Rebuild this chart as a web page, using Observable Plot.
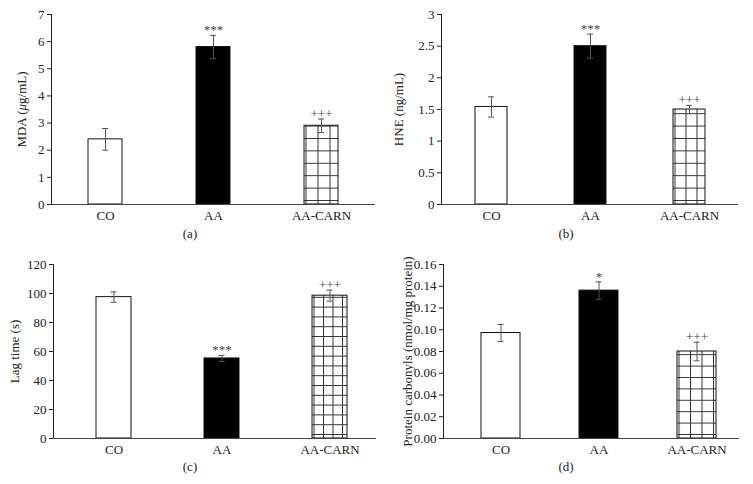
<!DOCTYPE html>
<html>
<head>
<meta charset="utf-8">
<script src="https://cdn.jsdelivr.net/npm/d3@7"></script>
<script src="https://cdn.jsdelivr.net/npm/@observablehq/plot@0.6"></script>
<style>
  html, body { margin: 0; padding: 0; background: #fff; }
  #root { position: relative; width: 753px; height: 484px; overflow: hidden; font-family: "Liberation Serif", "DejaVu Serif", serif; }
  .panel { position: absolute; }
  .cap { position: absolute; font-size: 13px; color: #222; transform: translateX(-50%); }
</style>
</head>
<body>
<div id="root"></div>
<script>
// ---- data ----
const categories = ["CO", "AA", "AA-CARN"];

const mdaMean = [2.4, 5.8, 2.9];
const mdaErr  = [0.4, 0.43, 0.25];
const mdaSig  = ["", "***", "+++"];
const mdaTicks = [0, 1, 2, 3, 4, 5, 6, 7];

const hneMean = [1.54, 2.5, 1.5];
const hneErr  = [0.16, 0.19, 0.065];
const hneSig  = ["", "***", "+++"];
const hneTicks = [0, 0.5, 1, 1.5, 2, 2.5, 3];

const lagMean = [97.5, 55.2, 98.5];
const lagErr  = [3.6, 2.1, 3.8];
const lagSig  = ["", "***", "+++"];
const lagTicks = [0, 20, 40, 60, 80, 100, 120];

const pcMean = [0.097, 0.136, 0.080];
const pcErr  = [0.0078, 0.008, 0.0086];
const pcSig  = ["", "*", "+++"];
const pcTicks = [0, 0.02, 0.04, 0.06, 0.08, 0.10, 0.12, 0.14, 0.16];

const captions = ["(a)", "(b)", "(c)", "(d)"];

const root = document.getElementById("root");

function panel(cfg) {
  const rows = categories.map((c, i) => ({
    cat: c, mean: cfg.mean[i], lo: cfg.mean[i] - cfg.err[i], hi: cfg.mean[i] + cfg.err[i], sig: cfg.sig[i]
  }));
  const pid = "grid-" + cfg.id;
  const fills = {"CO": "white", "AA": "black", "AA-CARN": `url(#${pid})`};
  const capInset = (cfg.bw - 6) / 2;
  const plot = Plot.plot({
    width: cfg.width,
    height: cfg.height,
    marginLeft: cfg.ml, marginRight: cfg.mr, marginTop: cfg.mt, marginBottom: cfg.mb,
    style: {fontFamily: '"Liberation Serif", "DejaVu Serif", serif', fontSize: "13px", color: "#222", background: "white"},
    x: {domain: categories, paddingInner: cfg.pi, paddingOuter: cfg.po, align: cfg.align, label: null, tickSize: 0, tickPadding: 6},
    y: {domain: [0, cfg.ticks[cfg.ticks.length - 1]], ticks: cfg.ticks, tickFormat: cfg.fmt, label: cfg.label, labelArrow: "none",
        labelAnchor: "center", labelOffset: cfg.lo, line: true, tickSize: 4, tickPadding: 3},
    marks: [
      Plot.barY(rows, {x: "cat", y: "mean", fill: d => fills[d.cat], stroke: "#111", strokeWidth: 1}),
      Plot.ruleX(rows, {x: "cat", y1: "lo", y2: "hi", stroke: "#555", strokeWidth: 1}),
      Plot.tickY(rows, {x: "cat", y: "hi", stroke: "#555", strokeWidth: 1, insetLeft: capInset, insetRight: capInset}),
      Plot.tickY(rows, {x: "cat", y: "lo", stroke: "#555", strokeWidth: 1, insetLeft: capInset, insetRight: capInset}),
      Plot.text(rows, {x: "cat", y: "hi", text: "sig", lineAnchor: "bottom", dy: -1, fill: "#444", fontSize: 13}),
      Plot.ruleY([0], {stroke: "#444"})
    ]
  });
  plot.setAttribute("fill", "currentColor");
  const svgns = "http://www.w3.org/2000/svg";
  // strip any axis-label arrows
  plot.querySelectorAll("text, tspan").forEach(t => {
    if (t.childElementCount === 0 && /[→↑←↓]/.test(t.textContent)) {
      t.textContent = t.textContent.replace(/\s*[→↑←↓]\s*/g, "");
    }
  });
  // hatch pattern aligned to the AA-CARN bar
  const xs = plot.scale("x");
  const ys = plot.scale("y");
  let px = 0, py = 0;
  try {
    px = xs.apply("AA-CARN");
    py = ys.apply(0);
  } catch (e) {}
  const defs = document.createElementNS(svgns, "defs");
  const pat = document.createElementNS(svgns, "pattern");
  pat.setAttribute("id", pid);
  pat.setAttribute("patternUnits", "userSpaceOnUse");
  pat.setAttribute("width", cfg.cw);
  pat.setAttribute("height", cfg.ch);
  pat.setAttribute("x", px + 1.5);
  pat.setAttribute("y", py - 4);
  const bg = document.createElementNS(svgns, "rect");
  bg.setAttribute("width", cfg.cw); bg.setAttribute("height", cfg.ch); bg.setAttribute("fill", "white");
  const ln = document.createElementNS(svgns, "path");
  ln.setAttribute("d", `M0.5,0V${cfg.ch}M0,0.5H${cfg.cw}`);
  ln.setAttribute("stroke", "#333");
  ln.setAttribute("stroke-width", "1");
  ln.setAttribute("fill", "none");
  pat.appendChild(bg); pat.appendChild(ln);
  defs.appendChild(pat);
  plot.insertBefore(defs, plot.firstChild);
  // italic mu in label
  if (cfg.italicMu) {
    plot.querySelectorAll("text").forEach(t => {
      if (t.textContent === cfg.label) {
        t.textContent = "";
        const parts = [["MDA (", false], ["μ", true], ["g/mL)", false]];
        parts.forEach(([s, it]) => {
          const ts = document.createElementNS(svgns, "tspan");
          ts.textContent = s;
          if (it) ts.setAttribute("font-style", "italic");
          t.appendChild(ts);
        });
      }
    });
  }
  const wrap = document.createElement("div");
  wrap.className = "panel";
  wrap.style.left = cfg.left + "px";
  wrap.style.top = cfg.top + "px";
  wrap.appendChild(plot);
  root.appendChild(wrap);
  const cap = document.createElement("div");
  cap.className = "cap";
  cap.textContent = cfg.caption;
  cap.style.left = cfg.capX + "px";
  cap.style.top = cfg.capY + "px";
  root.appendChild(cap);
}

panel({id: "a", left: 0, top: 0, width: 376, height: 224, ml: 51, mr: 1, mt: 14, mb: 20,
  pi: 0.685, po: 0.3425, align: 0.5, bw: 34, mean: mdaMean, err: mdaErr, sig: mdaSig, ticks: mdaTicks,
  fmt: d => String(d), label: "MDA (μg/mL)", italicMu: true, lo: 35, cw: 12, ch: 12.4,
  caption: captions[0], capX: 190, capY: 226});

panel({id: "b", left: 376, top: 0, width: 377, height: 224, ml: 65, mr: 15, mt: 14, mb: 20,
  pi: 0.677, po: 0.3385, align: 0.5, bw: 32, mean: hneMean, err: hneErr, sig: hneSig, ticks: hneTicks,
  fmt: d => String(d), label: "HNE (ng/mL)", lo: 48, cw: 11, ch: 12.4,
  caption: captions[1], capX: 566, capY: 226});

panel({id: "c", left: 0, top: 250, width: 378, height: 208, ml: 53, mr: 1, mt: 14, mb: 20,
  pi: 0.678, po: 0.329, align: 0.59, bw: 35, mean: lagMean, err: lagErr, sig: lagSig, ticks: lagTicks,
  fmt: d => String(d), label: "Lag time (s)", lo: 44, cw: 9.5, ch: 9.8,
  caption: captions[2], capX: 190, capY: 459});

panel({id: "d", left: 376, top: 250, width: 377, height: 208, ml: 67, mr: 14, mt: 14, mb: 20,
  pi: 0.602, po: 0.311, align: 0.62, bw: 39, mean: pcMean, err: pcErr, sig: pcSig, ticks: pcTicks,
  fmt: d => d.toFixed(2), label: "Protein carbonyls (nmol/mg protein)", lo: 41, cw: 11.5, ch: 11.4,
  caption: captions[3], capX: 566, capY: 459});
</script>
</body>
</html>
